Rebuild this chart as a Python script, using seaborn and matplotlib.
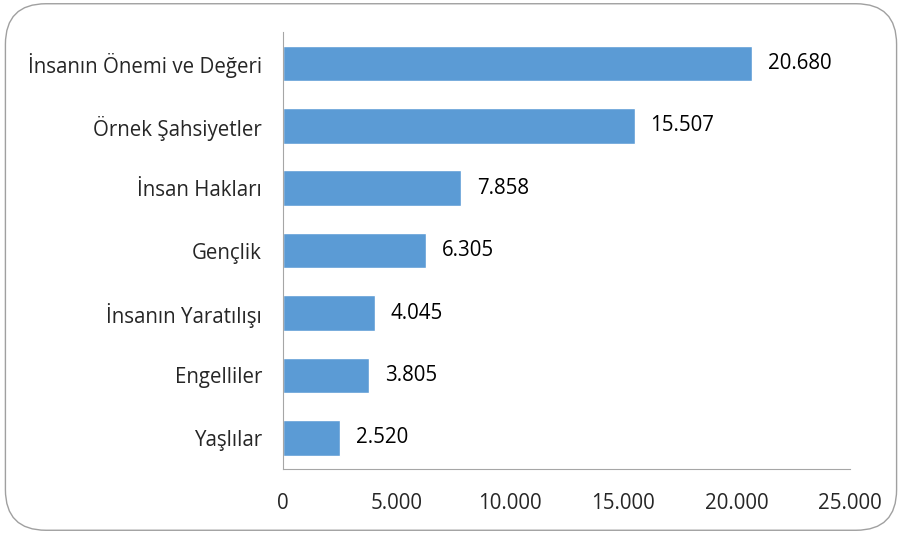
import matplotlib
matplotlib.use("Agg")
import matplotlib.pyplot as plt
import seaborn as sns
import pandas as pd
from matplotlib.patches import FancyBboxPatch

categories = ["İnsanın Önemi ve Değeri", "Örnek Şahsiyetler", "İnsan Hakları",
              "Gençlik", "İnsanın Yaratılışı", "Engelliler", "Yaşlılar"]
values = [20680, 15507, 7858, 6305, 4045, 3805, 2520]
xticks = [0, 5000, 10000, 15000, 20000, 25000]

df = pd.DataFrame({"konu": categories, "sayi": values})

sns.set_style("white")
plt.rcParams["font.family"] = ["Open Sans", "DejaVu Sans"]


def tr_fmt(v):
    return f"{v:,.0f}".replace(",", ".")


fig = plt.figure(figsize=(9.02, 5.34), dpi=100)
ax = fig.add_axes([0.3137, 0.1217, 0.6286, 0.818])

sns.barplot(data=df, y="konu", x="sayi", orient="h", color="#5b9bd5",
            width=0.57, saturation=1, ax=ax)

for i, v in enumerate(values):
    ax.text(v + 700, i, tr_fmt(v), va="center", ha="left", fontsize=14.8, color="black")

ax.set_xlim(0, 25000)
ax.set_xticks(xticks)
ax.set_xticklabels([tr_fmt(t) for t in xticks], fontsize=14.8)
ax.tick_params(axis="y", labelsize=14.8, length=0, pad=15)
ax.tick_params(axis="x", length=0, pad=17)
ax.set_xlabel("")
ax.set_ylabel("")
for s in ["top", "right"]:
    ax.spines[s].set_visible(False)
ax.spines["left"].set_color("#a6a6a6")
ax.spines["bottom"].set_color("#a6a6a6")

border = FancyBboxPatch((0.006, 0.007), 0.988, 0.986, boxstyle="round,pad=0,rounding_size=0.045",
                        transform=fig.transFigure, fill=False, edgecolor="#a0a0a0",
                        linewidth=1.0, mutation_aspect=902 / 534)
fig.patches.append(border)

fig.savefig("out.png", dpi=100)
